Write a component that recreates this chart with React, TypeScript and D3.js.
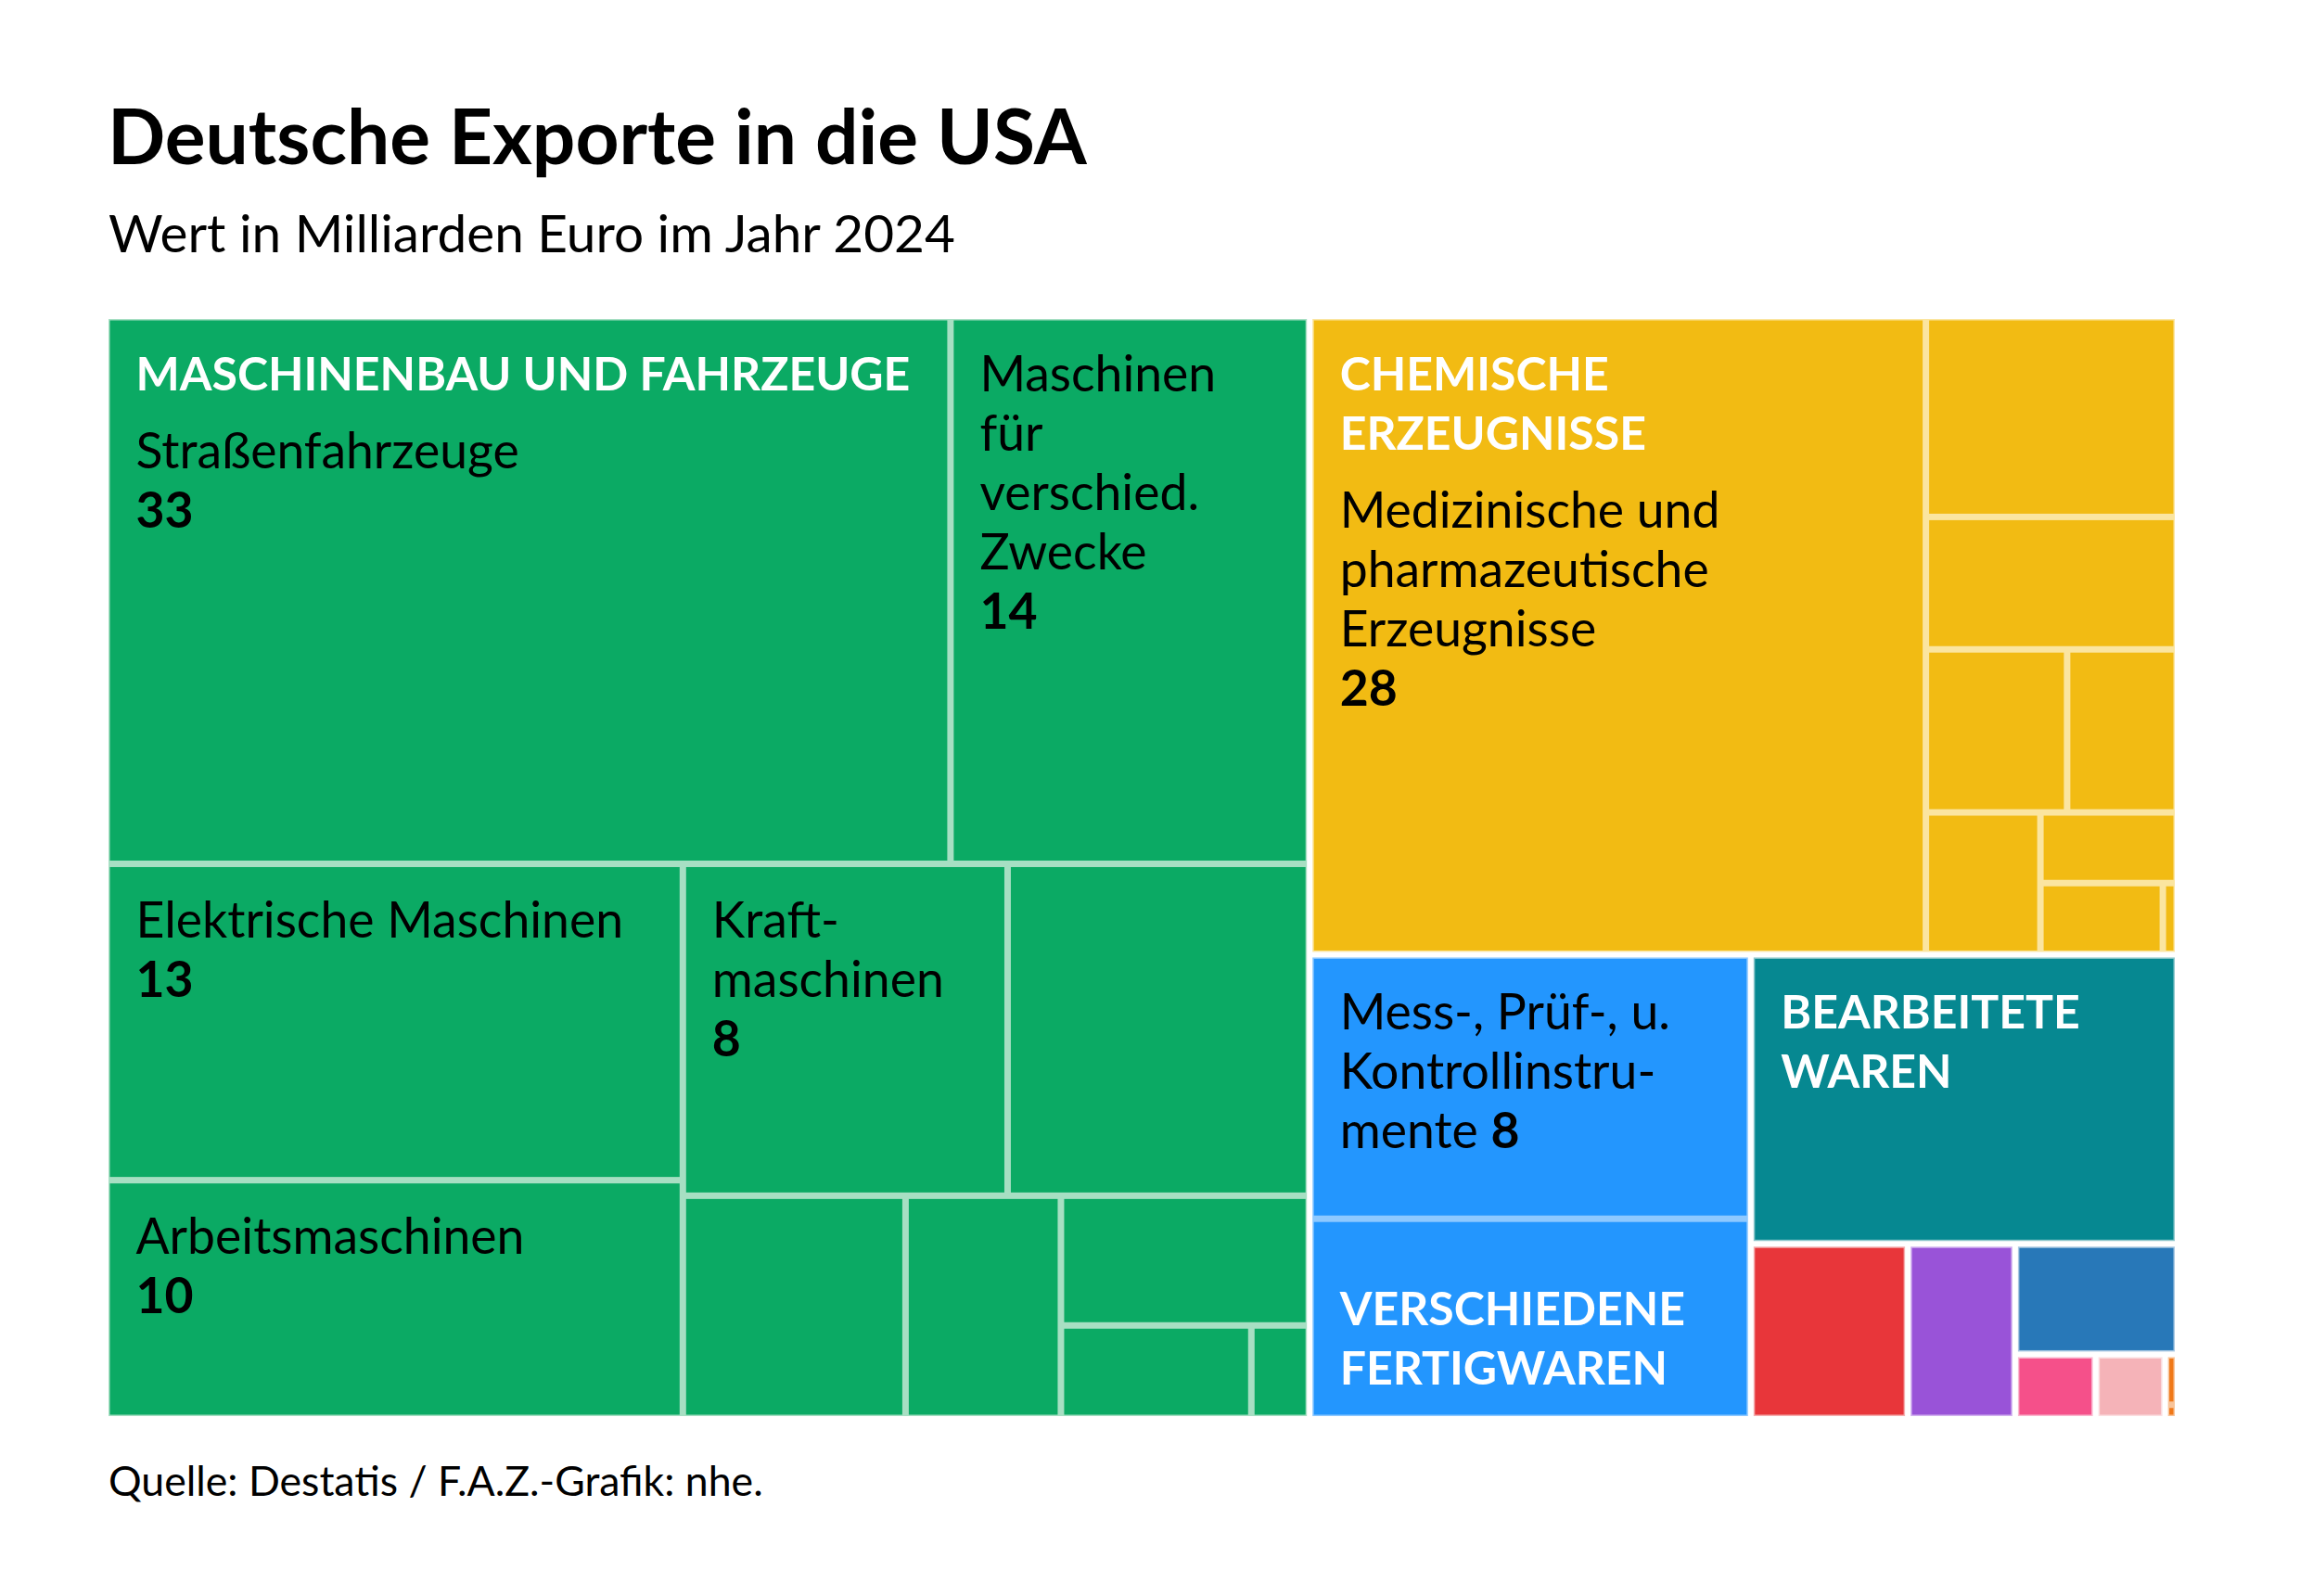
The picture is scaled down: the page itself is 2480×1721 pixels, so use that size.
import React, { useEffect, useRef } from 'react';
import * as d3 from 'd3';

const WIDTH = 2480;
const HEIGHT = 1721;
const FONT = 'Lato, "Noto Sans", sans-serif';

// Obergruppen (Warengruppen), Werte in Mrd. Euro
const groupNames = [
    'Maschinenbau und Fahrzeuge',
    'Chemische Erzeugnisse',
    'Verschiedene Fertigwaren',
    'Bearbeitete Waren',
    'Nahrungsmittel',
    'Rohstoffe',
    'Getränke und Tabak',
    'Brennstoffe',
    'Sonstiges',
    'Öle und Fette'
];
const groupHeaders = [
    'MASCHINENBAU UND FAHRZEUGE',
    'CHEMISCHE\nERZEUGNISSE',
    'VERSCHIEDENE\nFERTIGWAREN',
    'BEARBEITETE\nWAREN',
    '', '', '', '', '', ''
];
const headerPlacement = ['top', 'top', 'bottom', 'top', 'top', 'top', 'top', 'top', 'top', 'top'];
const groupColors = ['#0baa64', '#f2bb13', '#2396fe', '#068891', '#e8363a', '#9953d8', '#2878b8', '#f5508a', '#f5b3b8', '#f07818'];
const groupTints = ['#a7dfc3', '#fbe5a0', '#8ec9ff', '#8fc8cc', '#f5b0b1', '#d3b4f0', '#a9c8e2', '#fab8d0', '#fbdfe1', '#f8c49a'];

// Untergruppen
const machineryNames = ['Straßenfahrzeuge', 'Maschinen für verschiedene Zwecke', 'Elektrische Maschinen', 'Arbeitsmaschinen', 'Kraftmaschinen', 'Andere Beförderungsmittel', 'Metallbearbeitungsmaschinen', 'Nachrichtentechnik', 'Büromaschinen', 'Übrige A', 'Übrige B'];
const machineryValues = [33, 14.01, 13.04, 9.8, 7.71, 7.15, 3.54, 2.47, 2.3, 1.26, 0.38];
const machineryLabels = ['Straßenfahrzeuge\n{v}', 'Maschinen\nfür\nverschied.\nZwecke\n{v}', 'Elektrische Maschinen\n{v}', 'Arbeitsmaschinen\n{v}', 'Kraft-\nmaschinen\n{v}', '', '', '', '', '', ''];

const chemicalNames = ['Medizinische und pharmazeutische Erzeugnisse', 'Chemie A', 'Chemie B', 'Chemie C', 'Chemie D', 'Chemie E', 'Chemie F', 'Chemie G', 'Chemie H'];
const chemicalValues = [28.07, 3.59, 2.38, 1.65, 1.28, 1.16, 0.69, 0.62, 0.07];
const chemicalLabels = ['Medizinische und\npharmazeutische\nErzeugnisse\n{v}', '', '', '', '', '', '', '', ''];

const miscNames = ['Mess-, Prüf- und Kontrollinstrumente', 'Übrige Fertigwaren'];
const miscValues = [8.31, 6.29];
const miscLabels = ['Mess-, Prüf-, u.\nKontrollinstru-\nmente {v}', ''];

const processedNames = ['Bearbeitete Waren'];
const processedValues = [8.8];

const smallNames = ['Nahrungsmittel', 'Rohstoffe', 'Getränke und Tabak', 'Brennstoffe', 'Sonstiges'];
const smallValues = [1.96, 1.34, 1.28, 0.37, 0.32];

const oilNames = ['Öle A', 'Öle B'];
const oilValues = [0.045, 0.012];

const groupItems: { names: string[]; values: number[]; labels: string[] }[] = [
    { names: machineryNames, values: machineryValues, labels: machineryLabels },
    { names: chemicalNames, values: chemicalValues, labels: chemicalLabels },
    { names: miscNames, values: miscValues, labels: miscLabels },
    { names: processedNames, values: processedValues, labels: [''] },
    ...smallNames.map((n, i) => ({ names: [n], values: [smallValues[i]], labels: [''] })),
    { names: oilNames, values: oilValues, labels: ['', ''] }
];

// Tiling: Quadrat-Treemap; die große Gruppe wird zeilenweise (breit) aufgeteilt
const groupTiling: Record<string, { ratio: number; stretch: number }> = {
    'Maschinenbau und Fahrzeuge': { ratio: 1.06, stretch: 1.22 }
};

const baseTile = d3.treemapSquarify.ratio(1);

function tile(node: any, x0: number, y0: number, x1: number, y1: number) {
    const cfg = node.depth === 1 ? groupTiling[node.data.name] : undefined;
    if (!cfg) {
        baseTile(node, x0, y0, x1, y1);
        return;
    }
    d3.treemapSquarify.ratio(cfg.ratio)(node, x0, y0 * cfg.stretch, x1, y1 * cfg.stretch);
    node.children.forEach((c: any) => {
        c.y0 /= cfg.stretch;
        c.y1 /= cfg.stretch;
    });
}

const MAP = { x: 117, y: 344, w: 2228, h: 1183 };
const LABEL_SIZE = 53.5;
const HEADER_SIZE = 50;
const LINE = 64;
const PAD_X = 28;
const HEADER_BASE = 75;
const LABEL_BASE = 76;
const HEADER_GAP = 84;

export default function App() {
    const ref = useRef<SVGSVGElement>(null);

    useEffect(() => {
        if (!ref.current) return;
        const svg = d3.select(ref.current);
        svg.selectAll('*').remove();

        svg.append('rect').attr('width', WIDTH).attr('height', HEIGHT).attr('fill', '#fff');

        // Titel
        svg.append('text')
            .attr('x', 116).attr('y', 177)
            .attr('font-family', FONT).attr('font-weight', 700).attr('font-size', 82)
            .attr('fill', '#000')
            .text('Deutsche Exporte in die USA');
        svg.append('text')
            .attr('x', 117).attr('y', 272)
            .attr('font-family', FONT).attr('font-size', 56.7)
            .attr('fill', '#000')
            .text('Wert in Milliarden Euro im Jahr 2024');
        svg.append('text')
            .attr('x', 117).attr('y', 1613)
            .attr('font-family', FONT).attr('font-size', 44.6)
            .attr('fill', '#000')
            .text('Quelle: Destatis / F.A.Z.-Grafik: nhe.');

        const data = {
            name: 'Exporte',
            children: groupNames.map((g, i) => ({
                name: g,
                group: i,
                children: groupItems[i].names.map((n, j) => ({
                    name: n,
                    value: groupItems[i].values[j],
                    label: groupItems[i].labels[j],
                    group: i
                }))
            }))
        };

        const root = d3.hierarchy<any>(data)
            .sum((d: any) => d.value || 0)
            .sort((a: any, b: any) => b.value - a.value);

        d3.treemap<any>()
            .size([MAP.w, MAP.h])
            .tile(tile as any)
            .paddingInner((d: any) => (d.depth === 0 ? 6 : 7))
            .paddingOuter((d: any) => (d.depth === 1 ? 1.5 : 0))(root);

        const g = svg.append('g').attr('transform', `translate(${MAP.x},${MAP.y})`);

        const groups = root.children || [];
        g.selectAll('rect.group')
            .data(groups)
            .join('rect')
            .attr('class', 'group')
            .attr('x', (d: any) => d.x0)
            .attr('y', (d: any) => d.y0)
            .attr('width', (d: any) => d.x1 - d.x0)
            .attr('height', (d: any) => d.y1 - d.y0)
            .attr('fill', (d: any) => groupTints[d.data.group]);

        const leaves = root.leaves();
        g.selectAll('rect.leaf')
            .data(leaves)
            .join('rect')
            .attr('class', 'leaf')
            .attr('x', (d: any) => d.x0)
            .attr('y', (d: any) => d.y0)
            .attr('width', (d: any) => Math.max(0, d.x1 - d.x0))
            .attr('height', (d: any) => Math.max(0, d.y1 - d.y0))
            .attr('fill', (d: any) => groupColors[d.data.group]);

        const addLines = (
            x: number,
            baseline: number,
            lines: string[],
            value: number,
            opts: { size: number; weight: number; fill: string }
        ) => {
            lines.forEach((line, li) => {
                const t = g.append('text')
                    .attr('x', x)
                    .attr('y', baseline + li * LINE)
                    .attr('font-family', FONT)
                    .attr('font-size', opts.size)
                    .attr('font-weight', opts.weight)
                    .attr('fill', opts.fill);
                const parts = line.split('{v}');
                parts.forEach((p, pi) => {
                    if (p) t.append('tspan').text(p);
                    if (pi < parts.length - 1) {
                        t.append('tspan').attr('font-weight', 700).text(String(Math.round(value)));
                    }
                });
            });
        };

        groups.forEach((grp: any) => {
            const gi = grp.data.group;
            const kids = grp.children || [];
            const header = groupHeaders[gi] ? groupHeaders[gi].split('\n') : [];
            kids.forEach((leaf: any, k: number) => {
                const x = leaf.x0 + PAD_X;
                let base = leaf.y0 + LABEL_BASE;
                if (header.length && headerPlacement[gi] === 'top' && k === 0) {
                    const hb = leaf.y0 + HEADER_BASE;
                    addLines(x, hb, header, 0, { size: HEADER_SIZE, weight: 700, fill: '#fff' });
                    base = hb + (header.length - 1) * LINE + HEADER_GAP;
                }
                if (header.length && headerPlacement[gi] === 'bottom' && k === kids.length - 1) {
                    const last = leaf.y1 - 33;
                    addLines(x, last - (header.length - 1) * LINE, header, 0, { size: HEADER_SIZE, weight: 700, fill: '#fff' });
                }
                if (leaf.data.label) {
                    addLines(x, base, leaf.data.label.split('\n'), leaf.data.value, { size: LABEL_SIZE, weight: 400, fill: '#000' });
                }
            });
        });
    }, []);

    return (
        <svg
            ref={ref}
            width={WIDTH}
            height={HEIGHT}
            style={{ position: 'absolute', left: 0, top: 0, display: 'block' }}
        ></svg>
    );
}
